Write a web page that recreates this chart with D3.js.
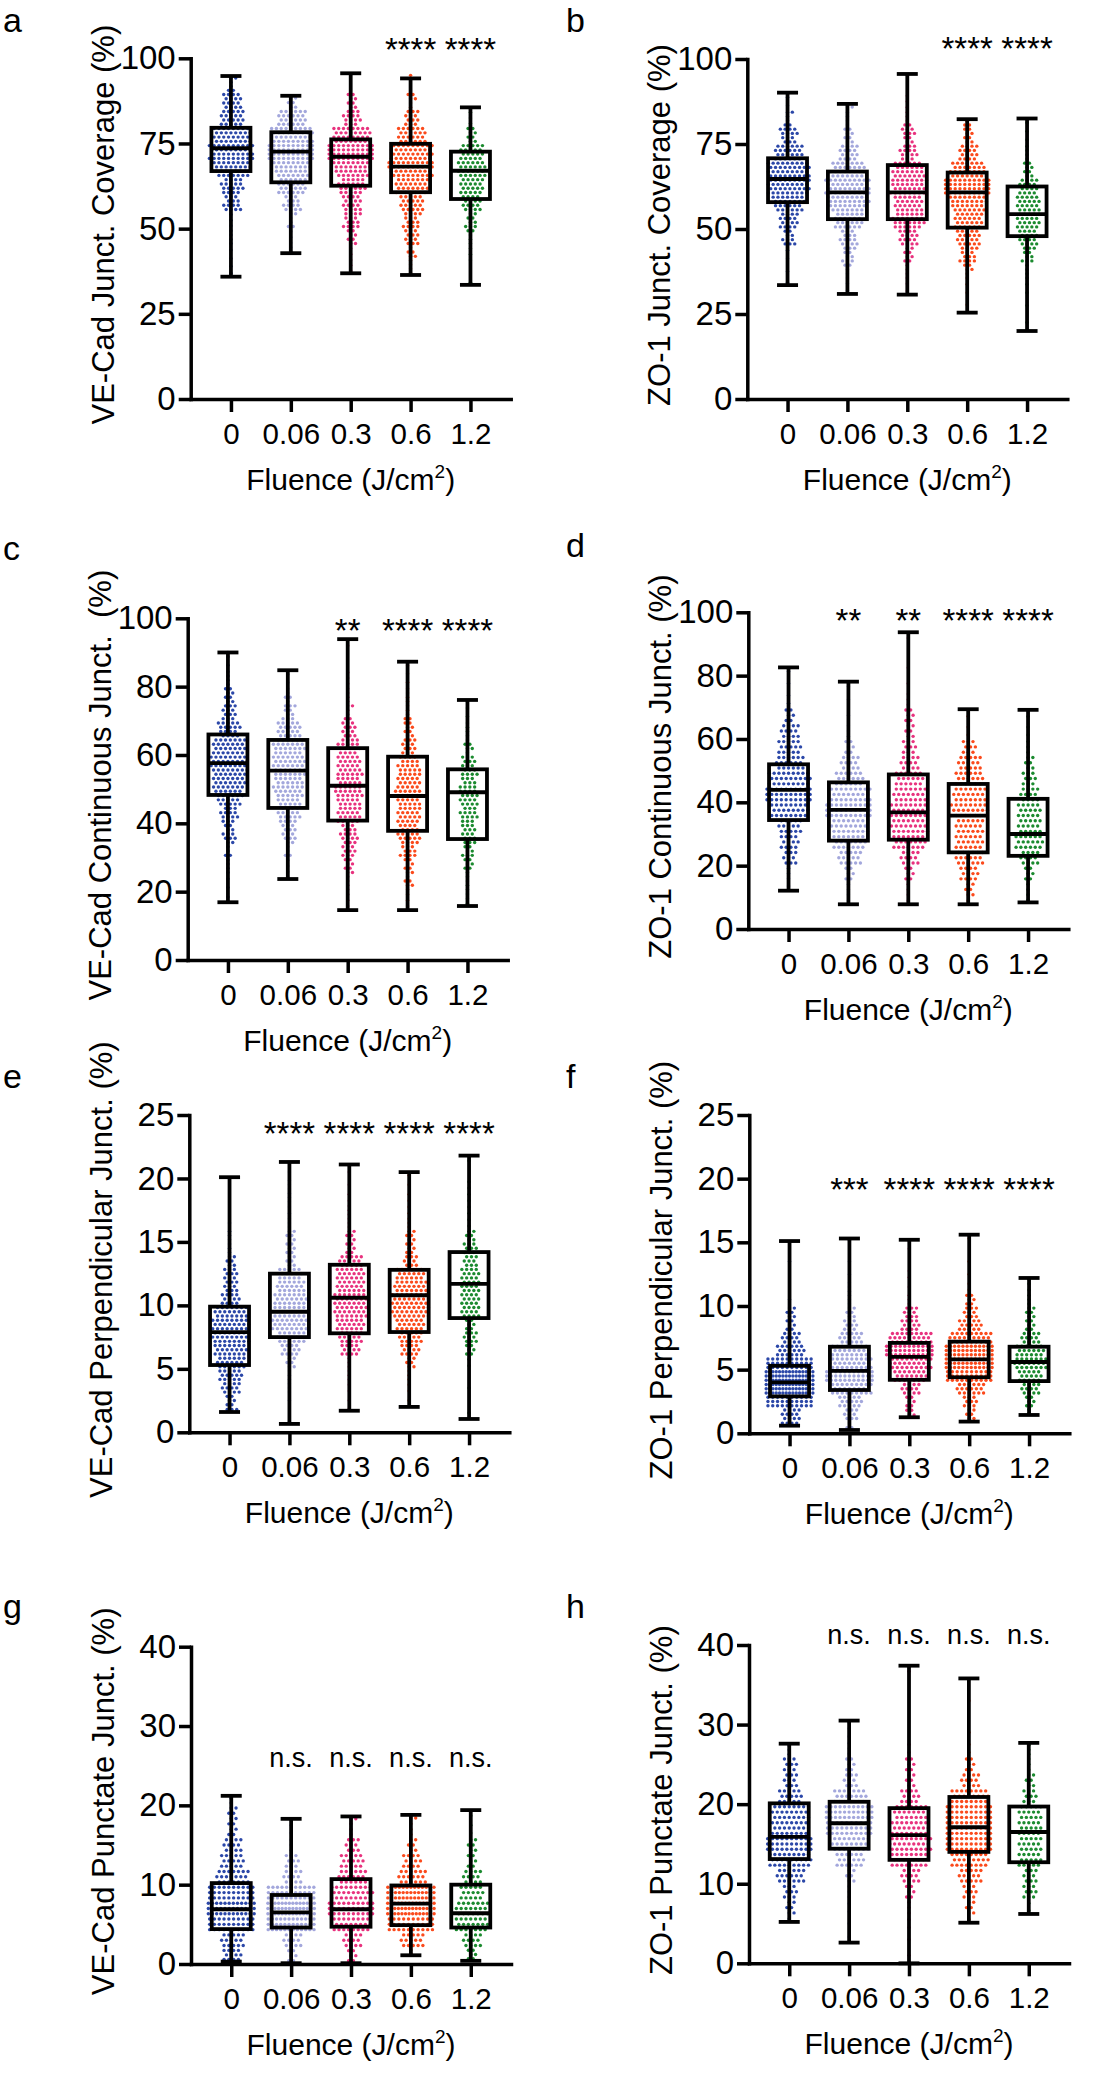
<!DOCTYPE html>
<html><head><meta charset="utf-8">
<script src="https://cdn.jsdelivr.net/npm/d3@7"></script>
<style>
body{margin:0;background:#fff;}
svg{display:block;font-family:"Liberation Sans",Arial,Helvetica,sans-serif;}
</style>
</head><body>
<svg id="chart" width="1105" height="2100"></svg>
<script>
// ---------------- DATA ----------------
const categories = ["0", "0.06", "0.3", "0.6", "1.2"];
const panelLetters = ["a", "b", "c", "d", "e", "f", "g", "h"];
const yTitles = [
  "VE-Cad Junct. Coverage (%)", "ZO-1 Junct. Coverage (%)",
  "VE-Cad Continuous Junct.  (%)", "ZO-1 Continuous Junct. (%)",
  "VE-Cad Perpendicular Junct. (%)", "ZO-1 Perpendicular Junct. (%)",
  "VE-Cad Punctate Junct. (%)", "ZO-1 Punctate Junct. (%)"
];
const xTitleMain = "Fluence (J/cm";
const xTitleSup = "2";
const yMaxes = [100, 100, 100, 100, 25, 25, 40, 40];
const yTickSteps = [25, 25, 20, 20, 5, 5, 10, 10];

// box statistics per group: [min, q1, median, q3, max]
const boxA = [[35.9,66.9,73.6,79.6,94.8],[42.8,63.6,72.6,78.3,89.0],[36.9,62.6,71.1,76.2,95.6],[36.4,60.7,68.2,74.9,94.1],[33.5,58.7,67.0,72.6,85.6]];
const boxB = [[33.5,57.9,64.7,70.8,90.1],[30.9,52.9,60.8,66.9,86.8],[30.7,52.9,60.8,68.8,95.6],[25.4,50.4,60.8,66.6,82.3],[20.0,47.9,54.4,62.5,82.5]];
const boxC = [[16.9,48.3,57.6,66.0,90.0],[23.7,44.5,55.4,64.4,84.8],[14.6,40.8,51.0,62.0,93.9],[14.6,37.8,48.0,59.5,87.3],[15.8,35.4,49.1,55.8,76.1]];
const boxD = [[12.1,34.4,43.9,52.0,82.6],[7.8,27.9,37.6,46.3,78.1],[7.8,28.2,36.8,48.8,93.7],[7.8,24.2,35.8,45.8,69.4],[8.4,23.1,30.0,41.1,69.2]];
const boxE = [[1.6,5.3,7.9,9.9,20.1],[0.66,7.5,9.5,12.5,21.3],[1.7,7.8,10.6,13.2,21.1],[2.0,7.9,10.8,12.8,20.5],[1.05,9.0,11.7,14.2,21.8]];
const boxF = [[0.6,2.9,4.0,5.3,15.1],[0.26,3.4,4.9,6.8,15.3],[1.26,4.2,6.0,7.1,15.2],[0.92,4.4,5.8,7.2,15.6],[1.44,4.1,5.6,6.8,12.2]];
const boxG = [[0.3,4.4,6.9,10.2,21.2],[0.1,4.6,6.5,8.7,18.3],[0.1,4.7,6.9,10.7,18.6],[1.1,4.9,7.6,9.9,18.8],[0.4,4.6,6.4,10.0,19.4]];
const boxH = [[5.2,13.1,15.9,20.1,27.6],[2.6,14.4,17.6,20.3,30.5],[0.0,13.0,16.1,19.5,37.4],[5.1,14.0,17.1,20.9,35.8],[6.2,12.7,16.5,19.7,27.7]];

// significance labels vs. control
const sigA = ["", "", "", "****", "****"];
const sigB = ["", "", "", "****", "****"];
const sigC = ["", "", "**", "****", "****"];
const sigD = ["", "**", "**", "****", "****"];
const sigE = ["", "****", "****", "****", "****"];
const sigF = ["", "***", "****", "****", "****"];
const sigG = ["", "n.s.", "n.s.", "n.s.", "n.s."];
const sigH = ["", "n.s.", "n.s.", "n.s.", "n.s."];

// individual points, read as counts per value bin (bin start / bin width per panel)
const binStarts = [30, 20, 10, 5, 0, 0, 0, 0];
const binWidths = [5, 5, 5, 5, 1, 1, 2, 2];
const dotsA = [
  [0,2,2,4,3,14,18,30,38,32,20,16,6,0],
  [0,0,2,3,6,14,24,30,40,36,24,6,0,0],
  [0,2,3,8,14,16,22,30,40,32,14,8,0,1],
  [0,3,6,12,14,20,28,38,36,24,12,6,0,1],
  [1,0,3,5,9,16,20,24,20,8,3,1,0,0]];
const dotsB = [
  [0,0,1,1,2,10,16,26,36,36,24,14,6,2,1,0],
  [0,0,2,5,10,14,24,34,38,30,16,8,4,2,0,0],
  [0,0,2,4,8,16,26,24,30,26,14,10,5,3,0,1],
  [0,1,2,6,14,20,24,30,40,30,16,8,3,0,0,0],
  [1,1,2,4,10,16,20,20,16,8,4,2,1,0,0,0]];
const dotsC = [
  [0,1,2,4,6,10,14,22,28,32,28,18,12,8,4,2,1,0],
  [0,0,1,3,6,12,18,22,26,28,26,20,10,5,2,0,0,0],
  [1,3,4,8,12,14,20,22,22,20,18,12,6,4,3,0,1,0],
  [1,3,6,8,14,18,20,22,20,18,12,8,5,4,2,1,0,0],
  [0,3,4,7,10,12,14,16,14,12,6,4,2,1,0,0,0,0]];
const dotsD = [
  [0,1,3,8,12,16,24,30,28,18,14,12,4,2,1,1,0,0,0],
  [1,4,8,14,20,26,30,26,20,12,6,3,1,1,1,0,0,0,0],
  [1,3,6,10,20,24,24,20,18,12,8,6,4,3,1,1,0,1,0],
  [1,6,12,16,18,20,22,22,18,14,8,2,1,0,0,0,0,0,0],
  [1,4,8,12,18,16,14,12,10,6,4,2,1,0,0,0,0,0,0]];
const dotsE = [
  [0,3,8,12,16,18,20,24,24,20,12,10,8,5,4,3,1,0,0,0,1,0],
  [1,0,1,3,4,7,10,18,24,24,22,18,14,6,6,6,3,2,3,3,1,1],
  [0,1,1,2,3,4,10,16,18,20,20,20,18,14,8,6,4,3,2,1,1,1],
  [0,0,1,2,4,6,10,16,20,22,24,22,18,10,8,5,3,2,2,1,1,0],
  [0,1,0,1,0,2,4,8,8,12,12,14,12,10,9,4,2,2,2,2,0,1]];
const dotsF = [
  [4,12,30,44,44,30,18,12,6,4,1,0,0,1,0,1],
  [3,8,16,26,32,28,24,16,10,6,4,3,1,1,0,1],
  [0,4,8,12,20,28,32,26,14,8,3,1,2,0,1,1],
  [1,5,10,16,30,38,36,28,16,8,5,2,1,1,0,1],
  [0,2,6,10,16,22,18,12,8,5,3,2,1,0,0,0]];
const dotsG = [
  [10,14,30,34,30,22,14,12,6,4,2],
  [6,12,36,40,32,14,8,4,2,1,0],
  [6,12,26,30,26,20,14,8,5,2,0],
  [2,16,32,40,38,18,12,6,4,2,0],
  [6,12,22,20,14,12,6,5,2,1,0]];
const dotsH = [
  [0,0,1,6,10,20,26,30,24,22,14,10,8,3,0,0,0,0,0],
  [0,1,1,2,4,8,16,24,30,32,20,10,6,4,2,1,0,0,0],
  [1,1,2,3,6,14,24,28,26,20,12,8,4,2,0,0,0,0,1],
  [0,0,1,4,8,16,24,30,32,30,24,14,4,2,1,0,1,0,0],
  [0,0,0,2,8,10,14,16,16,14,8,6,3,3,0,0,0,0,0]];

// ---------------- STYLE / LAYOUT ----------------
const colors = ["#2b47a8", "#a3a7dc", "#e8327e", "#fb4a1c", "#1b8a2f"];
const layout = [
  {x0:190.7, yTop:58.3,  y0:399,    sigY:43,   lx:3,   ly:32},
  {x0:747.3, yTop:59,    y0:399,    sigY:42,   lx:566, ly:32},
  {x0:187.7, yTop:618.3, y0:960,    sigY:624,  lx:3,   ly:560},
  {x0:748.3, yTop:612.3, y0:929,    sigY:614,  lx:566, ly:557},
  {x0:189.3, yTop:1115,  y0:1432.3, sigY:1127, lx:3,   ly:1088},
  {x0:749.3, yTop:1115,  y0:1433.3, sigY:1183, lx:566, ly:1088},
  {x0:191,   yTop:1646.7,y0:1964,   sigY:1760, lx:3,   ly:1618},
  {x0:749,   yTop:1645,  y0:1963.3, sigY:1637, lx:566, ly:1618}
];
const boxes = [boxA, boxB, boxC, boxD, boxE, boxF, boxG, boxH];
const dots = [dotsA, dotsB, dotsC, dotsD, dotsE, dotsF, dotsG, dotsH];
const sigs = [sigA, sigB, sigC, sigD, sigE, sigF, sigG, sigH];

const svg = d3.select("#chart");
const BW = 39, CW = 21, SW = 3.8, AXW = 3.5, DOT_R = 1.7;
const ROW_PX = 4.6, DOT_DX = 4.8, MAX_W = 50;

layout.forEach((L, p) => {
  const yMax = yMaxes[p];
  const y = d3.scaleLinear().domain([0, yMax]).range([L.y0, L.yTop]);
  const x = d3.scalePoint().domain(categories).range([L.x0, L.x0 + 320]).padding(0.672);
  const g = svg.append("g");

  // points (Prism-style rows, width follows density)
  categories.forEach((c, i) => {
    const [mn, q1, md, q3, mx] = boxes[p][i];
    const bs = binStarts[p], bw = binWidths[p];
    const pts = [];
    dots[p][i].forEach((n, b) => {
      if (!n) return;
      let lo = Math.max(bs + b * bw, mn), hi = Math.min(bs + (b + 1) * bw, mx);
      if (hi < lo) hi = lo;
      const hPx = Math.abs(y(lo) - y(hi));
      let rows = Math.max(1, Math.round(hPx / ROW_PX));
      rows = Math.min(rows, n);
      for (let r = 0; r < rows; r++) {
        const m = Math.floor(n / rows) + (((r * 3 + b) % rows) < (n % rows) ? 1 : 0);
        const v = lo + (r + 0.5) / rows * (hi - lo);
        let dx = DOT_DX; if (m * dx > MAX_W) dx = MAX_W / m;
        const shift = ((r + b) % 2 && m > 1 && m * dx < MAX_W - 4) ? dx * 0.5 : 0;
        for (let j = 0; j < m; j++) pts.push({v: v, off: (j - (m - 1) / 2) * dx + shift});
      }
    });
    g.append("g").selectAll("circle").data(pts).join("circle")
      .attr("cx", d => x(c) + d.off).attr("cy", d => y(d.v))
      .attr("r", DOT_R).attr("fill", colors[i]);
  });

  // boxes and whiskers
  categories.forEach((c, i) => {
    const [mn, q1, md, q3, mx] = boxes[p][i];
    const cx = x(c);
    const bg = g.append("g").attr("stroke", "#000").attr("stroke-width", SW).attr("fill", "none");
    bg.append("line").attr("x1", cx).attr("x2", cx).attr("y1", y(mn)).attr("y2", y(q1));
    bg.append("line").attr("x1", cx).attr("x2", cx).attr("y1", y(q3)).attr("y2", y(mx));
    bg.append("line").attr("x1", cx - CW / 2).attr("x2", cx + CW / 2).attr("y1", y(mn)).attr("y2", y(mn));
    bg.append("line").attr("x1", cx - CW / 2).attr("x2", cx + CW / 2).attr("y1", y(mx)).attr("y2", y(mx));
    bg.append("rect").attr("x", cx - BW / 2).attr("y", y(q3)).attr("width", BW).attr("height", y(q1) - y(q3));
    bg.append("line").attr("x1", cx - BW / 2).attr("x2", cx + BW / 2).attr("y1", y(md)).attr("y2", y(md));
  });

  // axes
  const yAxis = d3.axisLeft(y).tickValues(d3.range(0, yMax + 0.001, yTickSteps[p]))
    .tickSize(12).tickSizeOuter(0).tickPadding(3).tickFormat(d3.format("d"));
  const ya = g.append("g").attr("transform", `translate(${L.x0},0)`).call(yAxis);
  ya.selectAll("text").attr("font-size", 33).attr("fill", "#000");
  const xAxis = d3.axisBottom(x).tickSize(13).tickSizeOuter(0);
  const xa = g.append("g").attr("transform", `translate(0,${L.y0})`).call(xAxis);
  xa.selectAll("text").attr("font-size", 29.5).attr("fill", "#000").attr("y", 45).attr("dy", 0);
  [ya, xa].forEach(a => {
    a.attr("font-family", null);
    a.select(".domain").attr("stroke", "#000").attr("stroke-width", AXW).attr("stroke-linecap", "square");
    a.selectAll(".tick line").attr("stroke", "#000").attr("stroke-width", AXW);
  });

  // x title
  const xm = (x(categories[0]) + x(categories[4])) / 2;
  const xt = g.append("text").attr("x", xm).attr("y", L.y0 + 91)
    .attr("text-anchor", "middle").attr("font-size", 30).attr("fill", "#000");
  xt.append("tspan").text(xTitleMain);
  xt.append("tspan").attr("font-size", 19).attr("dy", -12).text(xTitleSup);
  xt.append("tspan").attr("dy", 12).text(")");

  // y title
  g.append("text")
    .attr("transform", `translate(${L.x0 - 77},${(L.y0 + L.yTop) / 2 - 4}) rotate(-90)`)
    .attr("text-anchor", "middle").attr("font-size", 31).attr("fill", "#000")
    .style("white-space", "pre").text(yTitles[p]);

  // significance
  sigs[p].forEach((s, i) => {
    if (!s) return;
    const isNs = s === "n.s.";
    g.append("text").attr("x", x(categories[i])).attr("y", L.sigY + (isNs ? 7 : 18))
      .attr("text-anchor", "middle").attr("font-size", isNs ? 27 : 33).attr("fill", "#000").text(s);
  });

  // panel letter
  g.append("text").attr("x", L.lx).attr("y", L.ly).attr("font-size", 34).attr("fill", "#000").text(panelLetters[p]);
});
</script>
</body></html>
